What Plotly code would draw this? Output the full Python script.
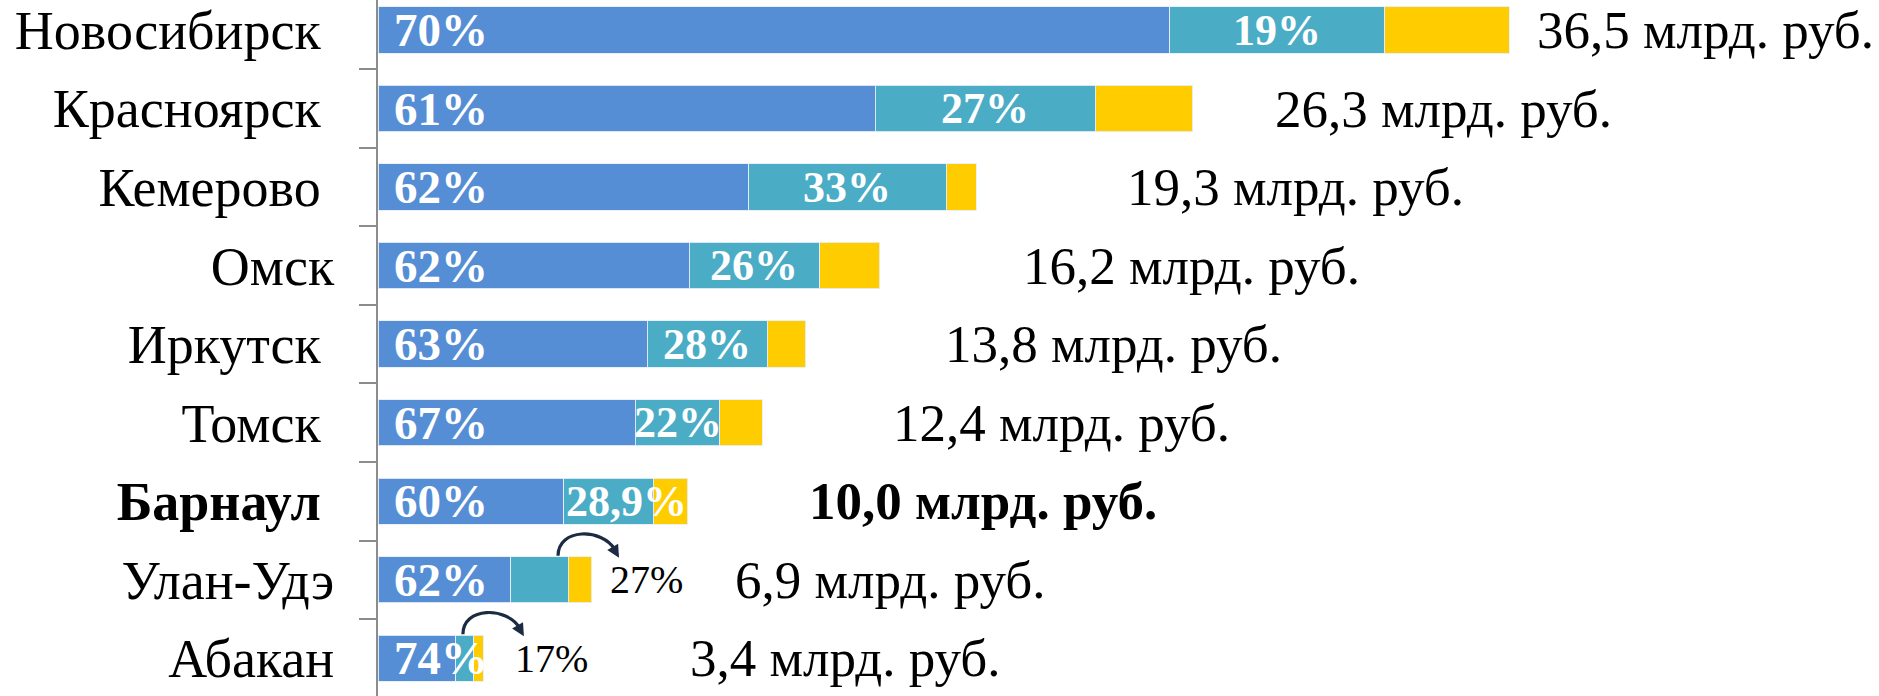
import plotly.graph_objects as go

# ---------------- data ----------------
cities = ["Новосибирск", "Красноярск", "Кемерово", "Омск", "Иркутск",
          "Томск", "Барнаул", "Улан-Удэ", "Абакан"]
tick_labels = ["Новосибирск\u00a0", "Красноярск\u00a0", "Кемерово\u00a0", "Омск",
               "Иркутск\u00a0", "Томск\u00a0", "<b>Барнаул\u00a0</b>", "Улан-Удэ", "Абакан"]
totals = [36.5, 26.3, 19.3, 16.2, 13.8, 12.4, 10.0, 6.9, 3.4]      # млрд. руб.
share_main = [70, 61, 62, 62, 63, 67, 60, 62, 74]                   # %
share_second = [19, 27, 33, 26, 28, 22, 28.9, 27, 17]               # %
share_other = [11, 12, 5, 12, 9, 11, 11.1, 11, 9]                   # %

# ---------------- layout helpers (positions / styles) ----------------
value_label_x = [37.50, 29.04, 24.27, 20.91, 18.39, 16.72, 14.01, 11.62, 10.16]
second_label_mode = ["center"] * 6 + ["left", "outside", "outside"]
outside_label_x = {7: 7.55, 8: 4.49}
arrow_from_x = {7: 5.81, 8: 2.74}

C_MAIN = "#558ED5"
C_SECOND = "#4BACC6"
C_OTHER = "#FFCC00"
FONT = "Liberation Serif, Times New Roman, serif"


def pct(v):
    return (f"{v:g}%").replace(".", ",")


def money(v):
    return (f"{v:.1f}").replace(".", ",") + " млрд. руб."


idx = list(range(len(cities)))
main_vals = [t * s / 100 for t, s in zip(totals, share_main)]
second_vals = [t * s / 100 for t, s in zip(totals, share_second)]
other_vals = [t * s / 100 for t, s in zip(totals, share_other)]

fig = go.Figure()
for vals, col in [(main_vals, C_MAIN), (second_vals, C_SECOND), (other_vals, C_OTHER)]:
    fig.add_trace(go.Bar(
        y=cities, x=vals, orientation="h", marker_color=col,
        marker_line=dict(color="rgba(230,238,248,0.9)", width=1),
        hoverinfo="skip",
    ))

ann = []
shapes = []
for i in idx:
    # main share label
    ann.append(dict(x=0, y=i, xref="x", yref="y", text=pct(share_main[i]),
                    showarrow=False, xanchor="left", yanchor="middle", xshift=14,
                    font=dict(family=FONT, size=47, color="white", weight="bold")))
    mode = second_label_mode[i]
    if mode == "center":
        ann.append(dict(x=main_vals[i] + second_vals[i] / 2, y=i, xref="x", yref="y",
                        text=pct(share_second[i]), showarrow=False,
                        xanchor="center", yanchor="middle",
                        font=dict(family=FONT, size=44, color="white", weight="bold")))
    elif mode == "left":
        ann.append(dict(x=main_vals[i], y=i, xref="x", yref="y",
                        text=pct(share_second[i]), showarrow=False,
                        xanchor="left", yanchor="middle", xshift=0,
                        font=dict(family=FONT, size=44, color="white", weight="bold")))
    else:
        ann.append(dict(x=outside_label_x[i], y=i, xref="x", yref="y",
                        text=pct(share_second[i]), showarrow=False,
                        xanchor="left", yanchor="middle", xshift=-4,
                        font=dict(family=FONT, size=40, color="black")))
        # curved arrow
        shapes.append(dict(type="path", xref="x", yref="y",
                           xsizemode="pixel", ysizemode="pixel",
                           xanchor=arrow_from_x[i], yanchor=i,
                           path="M 0,24 C 0,52 44,52 57,30",
                           line=dict(color="#1c2b42", width=3.2)))
        ann.append(dict(x=arrow_from_x[i], y=i, xref="x", yref="y", text="",
                        showarrow=True, xshift=61, yshift=22, ax=-7, ay=-12,
                        arrowhead=2, arrowsize=0.9, arrowwidth=2.8,
                        arrowcolor="#1c2b42", standoff=0))
    # total label
    txt = money(totals[i])
    if cities[i] == "Барнаул":
        txt = "<b>" + txt + "</b>"
    ann.append(dict(x=value_label_x[i], y=i, xref="x", yref="y", text=txt,
                    showarrow=False, xanchor="left", yanchor="middle", xshift=-5,
                    font=dict(family=FONT, size=53, color="black")))

fig.update_layout(
    width=1879, height=696,
    margin=dict(l=378, r=0, t=0, b=0, autoexpand=False),
    barmode="stack", bargap=0.41,
    showlegend=False,
    plot_bgcolor="white", paper_bgcolor="white",
    annotations=ann, shapes=shapes,
    xaxis=dict(range=[0, 48.44], visible=False, fixedrange=True, automargin=False),
    yaxis=dict(type="category", categoryorder="array", categoryarray=cities,
               tickmode="array", tickvals=cities, ticktext=tick_labels,
               range=[8.48, -0.382], tickson="boundaries", automargin=False,
               fixedrange=True,
               ticks="outside", ticklen=17, tickwidth=2, tickcolor="#8c8c8c",
               showline=True, linecolor="#8c8c8c", linewidth=2,
               showgrid=False, zeroline=False, ticklabelstandoff=31,
               tickfont=dict(family=FONT, size=54, color="black")),
)

fig.write_html(
    "out.html",
    config={"displayModeBar": False, "staticPlot": False},
    post_script="document.body.style.margin='0';document.body.style.overflow='hidden';",
)
